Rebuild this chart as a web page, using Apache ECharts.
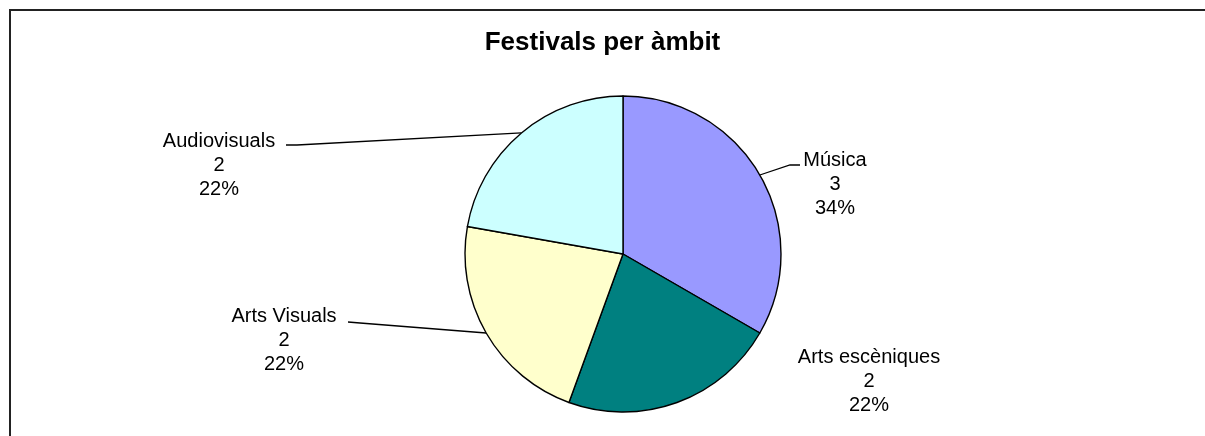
<!DOCTYPE html>
<html>
<head>
<meta charset="utf-8">
<script src="https://cdn.jsdelivr.net/npm/echarts@6/dist/echarts.min.js"></script>
<style>
html,body{margin:0;padding:0;background:#fff;}
#c{width:1205px;height:436px;}
</style>
</head>
<body>
<div id="c"></div>
<script>
const titleText = 'Festivals per àmbit';
const categories = ['Música', 'Arts escèniques', 'Arts Visuals', 'Audiovisuals'];
const values = [3, 2, 2, 2];
const colors = ['#9999FF', '#008080', '#FFFFCC', '#CCFFFF'];

// label layout (block centre offsets from pie centre, and leader line bends)
const CX = 623, CY = 254, R = 158;
const labelPos = [
  {x: 212, y: -70, line: [[167, -89], [177, -89]], show: true},
  {x: 246, y: 127, line: null, show: false},
  {x: -339, y: 86, line: [[-263, 69], [-275, 68]], show: true},
  {x: -404, y: -89, line: [[-326, -109], [-337, -109]], show: true}
];

const chart = echarts.init(document.getElementById('c'), null, {renderer: 'canvas'});

const total = values.reduce((a, b) => a + b, 0);
const midAngles = [];
let acc = 0;
values.forEach(v => { midAngles.push((acc + v / 2) / total * 2 * Math.PI); acc += v; });

chart.setOption({
  animation: false,
  backgroundColor: '#fff',
  title: {
    text: titleText,
    left: 'center',
    top: 30,
    padding: 0,
    textStyle: {fontFamily: 'Liberation Sans', fontSize: 26, fontWeight: 'bold', color: '#000'}
  },
  graphic: [{
    type: 'rect',
    shape: {x: 10, y: 10, width: 1300, height: 500},
    style: {fill: 'none', stroke: '#222', lineWidth: 2},
    silent: true
  }],
  series: [{
    type: 'pie',
    center: [CX, CY],
    radius: R,
    startAngle: 90,
    clockwise: true,
    percentPrecision: 0,
    emphasis: {disabled: true},
    itemStyle: {borderColor: '#000', borderWidth: 1.4},
    label: {
      show: true,
      position: 'outside',
      formatter: '{b}\n{c}\n{d}%',
      fontFamily: 'Liberation Sans',
      fontSize: 20,
      lineHeight: 24,
      color: '#000',
      align: 'center'
    },
    labelLine: {show: true, lineStyle: {color: '#000', width: 1.3}},
    labelLayout: function (params) {
      const i = params.dataIndex;
      const p = labelPos[i];
      const a = midAngles[i];
      const start = [CX + R * Math.sin(a), CY - R * Math.cos(a)];
      const out = {
        x: CX + p.x,
        y: CY + p.y,
        align: 'center',
        verticalAlign: 'middle'
      };
      if (p.line) {
        out.labelLinePoints = [start, [CX + p.line[0][0], CY + p.line[0][1]], [CX + p.line[1][0], CY + p.line[1][1]]];
      }
      return out;
    },
    data: categories.map((name, i) => ({
      name: name,
      value: values[i],
      itemStyle: {color: colors[i]},
      labelLine: {show: labelPos[i].show}
    }))
  }]
});
</script>
</body>
</html>
